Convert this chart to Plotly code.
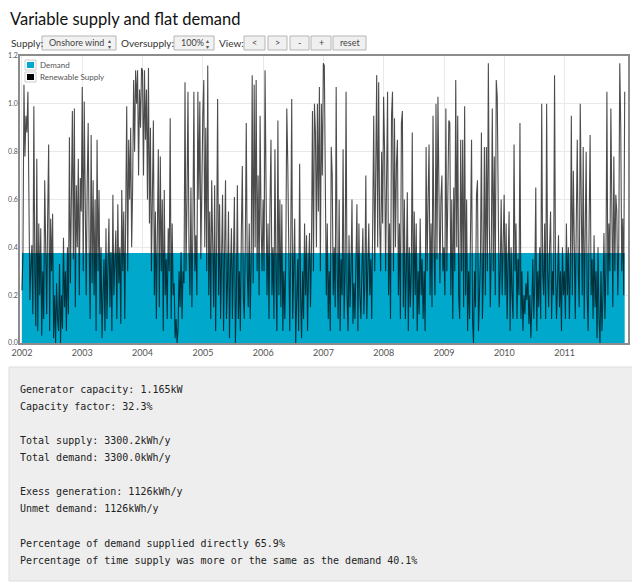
import pandas as pd
import plotly.graph_objects as go

# onshore wind output per kW of demand, ~6 day steps
supply_2002 = [0.22, 0.38, 1.08, 0.78, 0.95, 0.88, 1.05, 0.4, 0.18, 0.32, 0.41, 0.12, 0.99, 0.3, 0.07,
               0.77, 0.05, 0.5, 0.2, 0.48, 0.03, 0.3, 0.1, 0.68, 0.3, 0.12, 0.53, 0.83, 0.05, 0.52,
               0.3, 0.54, 0.02, 0.2, 0.0, 0.25, 0.1, 0.05, 0.33, 0.0, 0.2, 0.06, 0.44, 0.15, 0.3,
               0.05, 0.4, 0.12, 0.86, 0.25, 0.6, 0.97, 0.35, 0.98, 0.15, 0.66, 0.4, 0.77, 0.2, 0.69, 0.55]
supply_2003 = [1.07, 0.3, 1.01, 0.6, 0.2, 0.66, 0.92, 0.4, 0.1, 0.87, 0.25, 0.68, 0.2, 0.6, 0.05,
               0.85, 0.3, 0.64, 0.12, 0.4, 0.02, 0.2, 0.35, 0.05, 0.48, 0.1, 0.3, 0.52, 0.15, 0.38,
               0.05, 0.62, 0.2, 0.3, 0.47, 0.1, 0.58, 0.25, 0.4, 0.08, 0.64, 0.3, 0.55, 0.1, 0.5,
               0.99, 0.3, 0.85, 0.6, 0.9, 0.4, 0.65, 1.1, 0.8, 1.14, 1.0, 1.14, 0.7, 1.06, 0.9, 1.15]
supply_2004 = [1.14, 0.7, 1.14, 0.85, 1.06, 0.6, 1.15, 0.5, 0.9, 0.3, 0.62, 0.93, 0.2, 0.55, 0.1,
               0.45, 0.81, 0.15, 0.78, 0.3, 0.6, 0.05, 0.64, 0.2, 0.35, 0.1, 0.48, 0.3, 0.94, 0.1,
               0.5, 0.2, 0.25, 0.02, 0.1, 0.0, 0.06, 0.3, 0.15, 0.38, 0.1, 0.3, 0.25, 1.09, 0.3,
               0.6, 1.05, 0.4, 0.2, 0.65, 0.15, 0.5, 1.05, 0.3, 0.45, 0.2, 1.05, 0.6, 1.01, 0.35, 0.8]
supply_2005 = [0.95, 1.1, 0.4, 0.9, 0.3, 1.16, 0.2, 0.55, 0.1, 0.68, 0.3, 0.15, 0.66, 0.05, 0.4,
               1.02, 0.2, 0.58, 0.1, 0.35, 0.62, 0.05, 0.3, 0.68, 0.1, 0.25, 0.55, 0.02, 0.3, 0.48,
               0.1, 0.4, 0.61, 0.0, 0.2, 0.66, 0.1, 0.3, 0.05, 0.45, 0.74, 0.2, 0.1, 0.4, 0.92,
               0.3, 0.15, 0.5, 0.1, 0.35, 1.12, 0.25, 1.08, 0.4, 1.1, 0.3, 0.7, 0.2, 0.95, 0.5, 0.3]
supply_2006 = [0.6, 0.3, 1.14, 0.5, 0.2, 0.5, 0.1, 0.57, 0.85, 0.2, 0.4, 0.1, 0.81, 0.3, 0.05,
               0.93, 0.2, 0.6, 0.15, 0.58, 0.05, 0.3, 0.1, 0.35, 0.98, 0.75, 0.2, 0.05, 0.4, 1.02,
               0.1, 0.3, 0.52, 0.0, 0.15, 0.35, 0.05, 0.75, 0.2, 0.02, 0.3, 0.1, 0.5, 0.2, 0.45,
               0.05, 0.3, 0.46, 0.15, 0.4, 0.97, 0.3, 1.0, 0.88, 0.4, 1.0, 0.55, 1.07, 0.3, 1.0, 0.7]
supply_2007 = [1.17, 1.16, 0.8, 0.2, 0.5, 0.1, 0.3, 0.05, 0.82, 0.7, 0.2, 0.4, 0.15, 1.07, 0.3,
               0.1, 0.6, 0.05, 0.35, 0.2, 0.81, 0.1, 0.3, 1.05, 0.2, 0.05, 0.45, 0.15, 0.3, 0.6,
               0.08, 0.25, 0.1, 0.3, 0.58, 0.05, 0.5, 0.2, 0.1, 0.3, 0.48, 0.12, 0.25, 0.7, 0.1,
               0.3, 0.5, 0.2, 0.35, 0.1, 0.45, 0.95, 0.3, 0.6, 1.12, 0.4, 1.09, 0.5, 0.3, 0.8, 0.5]
supply_2008 = [1.03, 0.8, 0.3, 0.6, 1.05, 0.2, 0.5, 0.1, 0.95, 1.05, 0.3, 0.94, 0.4, 0.75, 0.85,
               0.2, 0.5, 0.1, 0.92, 0.97, 0.15, 0.6, 0.1, 0.3, 0.63, 0.05, 0.4, 0.15, 0.3, 0.88,
               0.1, 0.55, 0.2, 0.5, 0.05, 0.3, 0.12, 0.52, 0.2, 0.35, 0.1, 0.3, 0.05, 0.82, 0.3,
               0.6, 0.83, 0.2, 0.5, 0.15, 0.95, 0.4, 0.2, 1.0, 0.35, 1.03, 0.5, 0.25, 0.6, 0.7, 0.3]
supply_2009 = [0.4, 0.2, 0.98, 0.3, 0.6, 0.93, 0.92, 0.2, 0.6, 0.1, 0.65, 0.3, 1.1, 0.4, 0.95,
               0.2, 0.1, 0.85, 0.3, 0.85, 0.15, 0.99, 0.2, 0.6, 0.05, 0.3, 0.1, 0.4, 0.85, 0.1,
               0.0, 0.3, 0.15, 0.62, 0.68, 0.05, 0.2, 0.35, 0.88, 0.1, 0.3, 0.82, 0.2, 0.82, 0.3,
               1.17, 0.5, 0.15, 0.4, 0.98, 0.3, 0.78, 0.2, 1.1, 1.03, 0.4, 0.15, 0.3, 0.6, 0.2, 0.5]
supply_2010 = [0.62, 0.2, 0.5, 0.1, 0.3, 0.55, 0.05, 0.4, 0.2, 0.1, 0.83, 0.3, 0.5, 0.1, 0.35,
               0.2, 0.92, 0.1, 0.3, 0.05, 0.2, 0.12, 0.25, 0.18, 0.3, 0.08, 0.2, 0.02, 0.15, 0.35,
               0.1, 0.25, 0.65, 0.05, 0.3, 0.15, 0.4, 0.1, 1.0, 0.3, 0.2, 0.5, 0.1, 1.0, 0.3,
               0.15, 0.4, 0.55, 0.1, 0.3, 0.2, 1.12, 0.3, 0.1, 0.25, 0.45, 0.15, 0.3, 0.05, 0.4, 0.2]
supply_2011 = [0.3, 0.1, 0.5, 0.2, 0.4, 0.1, 0.3, 0.95, 0.2, 0.72, 0.4, 0.1, 0.5, 0.85, 0.3,
               0.15, 1.0, 0.4, 0.2, 0.82, 0.1, 0.45, 0.8, 0.2, 0.05, 0.5, 0.87, 0.2, 0.35, 0.1,
               0.45, 0.15, 0.3, 0.02, 0.4, 0.1, 0.0, 0.3, 0.05, 0.2, 0.46, 0.1, 0.3, 1.05, 0.2,
               0.5, 0.3, 0.98, 0.4, 0.15, 0.78, 0.3, 0.62, 0.55, 0.2, 0.4, 1.17, 0.9, 0.3, 0.52, 0.2, 1.05]

supply = (supply_2002 + supply_2003 + supply_2004 + supply_2005 + supply_2006
          + supply_2007 + supply_2008 + supply_2009 + supply_2010 + supply_2011)
dates = pd.date_range("2002-01-01", "2011-12-31", periods=len(supply))

demand = 0.3767  # 3300 kWh/y flat
year_ticks = [f"{y}-01-01" for y in range(2002, 2012)]
year_labels = [str(y) for y in range(2002, 2012)]

stats = [
    ("Generator capacity: 1.165kW", 389),
    ("Capacity factor: 32.3%", 406),
    ("Total supply: 3300.2kWh/y", 440),
    ("Total demand: 3300.0kWh/y", 457),
    ("Exess generation: 1126kWh/y", 491),
    ("Unmet demand: 1126kWh/y", 508),
    ("Percentage of demand supplied directly 65.9%", 543),
    ("Percentage of time supply was more or the same as the demand 40.1%", 560),
]

# page has an 8px body margin, so page coords are shifted by OFF
OFF = 8
W, H = 632, 578
L, R, T, B = 12, 12, 48, 243
PW, PH = W - L - R, H - T - B

def px(x):
    return (x - OFF - L) / PW

def py(y):
    return (H - B - (y - OFF)) / PH

teal = "#00a9cc"
ui_font = "Lato, Noto Sans"

fig = go.Figure()
fig.add_trace(go.Scatter(
    x=[dates[0], dates[-1]], y=[demand, demand], mode="lines",
    line=dict(color=teal, width=0), fill="tozeroy", fillcolor=teal,
    name="Demand", showlegend=False, hoverinfo="skip",
))
fig.add_trace(go.Scatter(
    x=dates, y=supply, mode="lines",
    line=dict(color="rgba(0,0,0,0.7)", width=1.1),
    name="Renewable Supply", showlegend=False,
))

shapes = []
annotations = []

# title
annotations.append(dict(text="Variable supply and flat demand", x=px(9), y=py(8.5),
                        yanchor="top", borderpad=0,
                        font=dict(family=ui_font, size=16.5, color="#111111")))

# control row
for label, x0 in [("Supply:", 9), ("Oversupply:", 119), ("View:", 217)]:
    annotations.append(dict(text=label, x=px(x0), y=py(43),
                            font=dict(family=ui_font, size=10, color="#333333")))

selects = [("Onshore wind", 42, 116), ("100%", 174, 214)]
for label, x0, x1 in selects:
    shapes.append(dict(type="rect", x0=px(x0), x1=px(x1), y0=py(50), y1=py(36),
                       fillcolor="#f2f2f2", line=dict(color="#b5b5b5", width=1)))
    annotations.append(dict(text=label, x=px(x0 + 5), y=py(43),
                            font=dict(family=ui_font, size=9, color="#444444")))
    annotations.append(dict(text="▴", x=px(x1 - 10), y=py(40),
                            font=dict(family="DejaVu Sans", size=6, color="#555555")))
    annotations.append(dict(text="▾", x=px(x1 - 10), y=py(46),
                            font=dict(family="DejaVu Sans", size=6, color="#555555")))

buttons = [("<", 244, 265), (">", 268, 287), ("-", 290, 309), ("+", 311, 331), ("reset", 333, 366)]
for label, x0, x1 in buttons:
    shapes.append(dict(type="rect", x0=px(x0), x1=px(x1), y0=py(50), y1=py(36),
                       fillcolor="#f0f0f0", line=dict(color="#b5b5b5", width=1)))
    annotations.append(dict(text=label, x=px((x0 + x1) / 2), y=py(43), xanchor="center",
                            font=dict(family=ui_font, size=9, color="#444444")))

# legend drawn flot-style
for label, color, y in [("Demand", teal, 65), ("Renewable Supply", "black", 77)]:
    shapes.append(dict(type="rect", x0=px(25), x1=px(36), y0=py(y + 5), y1=py(y - 5),
                       fillcolor="white", line=dict(color="#cccccc", width=1)))
    shapes.append(dict(type="rect", x0=px(27), x1=px(34), y0=py(y + 3), y1=py(y - 3),
                       fillcolor=color, line=dict(width=0)))
    annotations.append(dict(text=label, x=px(38), y=py(y),
                            font=dict(family=ui_font, size=8, color="#545454")))

# results box
shapes.append(dict(type="rect", x0=px(9), x1=px(635), y0=py(581), y1=py(367),
                   fillcolor="#eeeeee", line=dict(color="#dddddd", width=1)))
for line, y in stats:
    annotations.append(dict(text=line, x=px(18), y=py(y),
                            font=dict(family="DejaVu Sans Mono", size=10, color="#222222")))

for s in shapes:
    s.update(xref="paper", yref="paper", layer="above")
for a in annotations:
    a.update(xref="paper", yref="paper", showarrow=False)
    a.setdefault("xanchor", "left")
    a.setdefault("yanchor", "middle")

fig.update_layout(
    width=W, height=H, autosize=False,
    margin=dict(l=L, r=R, t=T, b=B),
    plot_bgcolor="white", paper_bgcolor="white",
    shapes=shapes, annotations=annotations,
    showlegend=False,
    xaxis=dict(
        type="date", range=["2001-12-20", "2012-01-20"], automargin=False,
        tickvals=year_ticks, ticktext=year_labels,
        showgrid=True, gridcolor="#e9e9e9", ticks="",
        showline=True, linecolor="#8c8c8c", linewidth=1.5, mirror=True,
        tickfont=dict(family=ui_font, size=9, color="#545454"),
    ),
    yaxis=dict(
        range=[0, 1.2], dtick=0.2, tickformat=".1f", automargin=False,
        showgrid=True, gridcolor="#e9e9e9", ticks="", zeroline=False,
        showline=True, linecolor="#8c8c8c", linewidth=1.5, mirror=True,
        ticklabelstandoff=-1,
        tickfont=dict(family=ui_font, size=7, color="#545454"),
    ),
)

fig.write_html("out.html")
